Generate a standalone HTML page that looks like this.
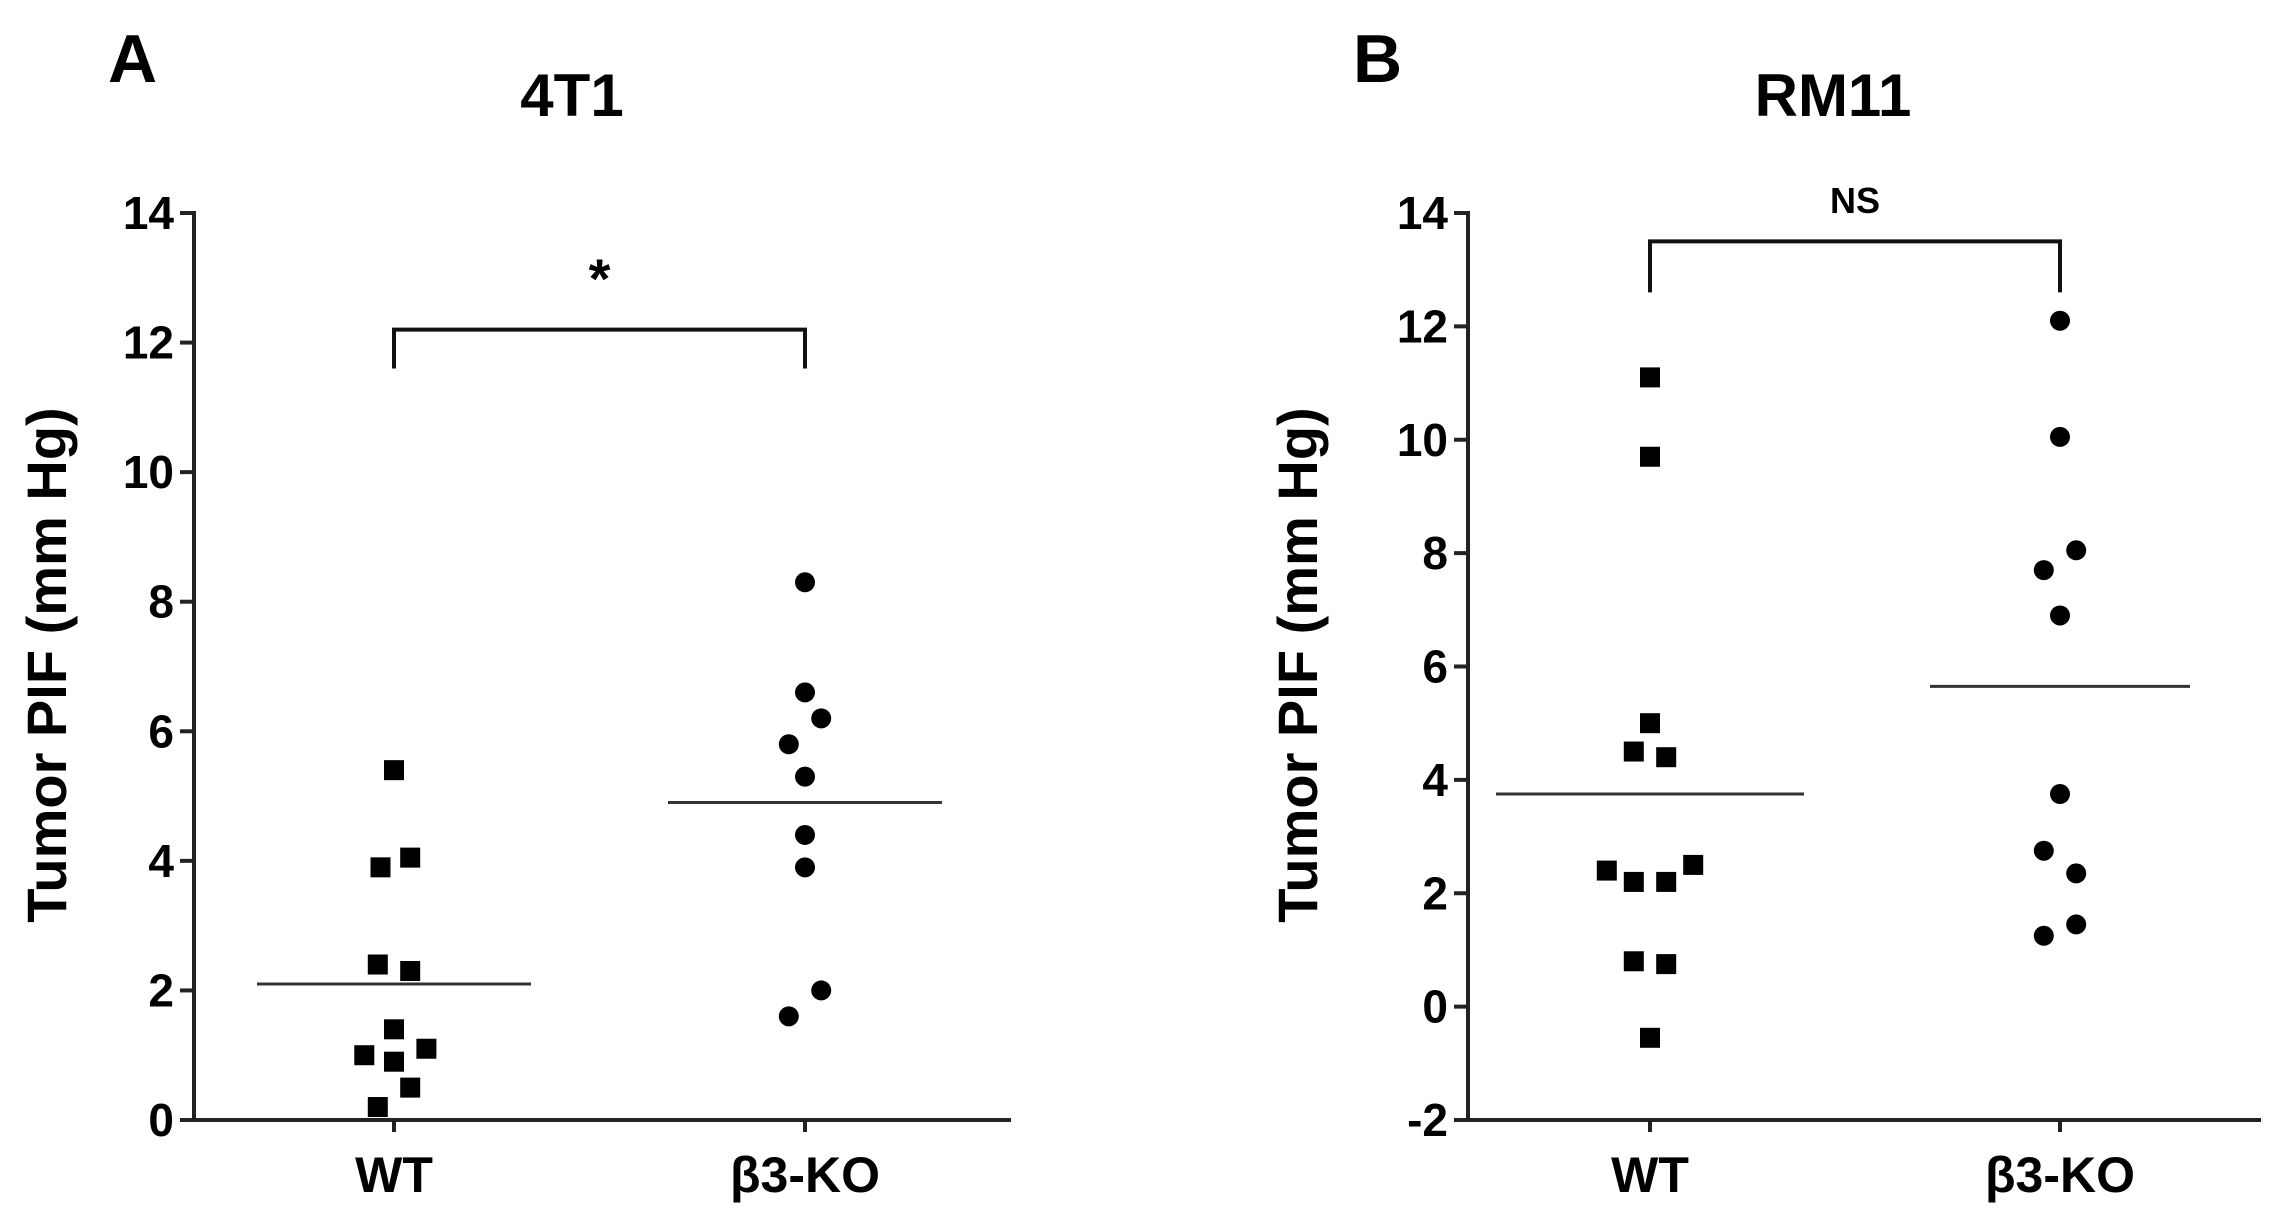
<!DOCTYPE html>
<html><head><meta charset="utf-8"><style>
html,body{margin:0;padding:0;background:#fff;}
svg{display:block;font-family:"Liberation Sans",Arial,sans-serif;}
</style></head><body>
<svg id="fig" width="2275" height="1228" viewBox="0 0 2275 1228"></svg>
<script>
// Panel A (4T1) data
const categoriesA = ["WT", "β3-KO"];
const wtValuesA = [5.4, 3.9, 4.05, 2.4, 2.3, 1.4, 1.0, 0.9, 1.1, 0.5, 0.2];
const wtJitterA = [0, -0.5, 0.6, -0.6, 0.6, 0, -1.1, 0, 1.2, 0.6, -0.6];
const koValuesA = [8.3, 6.6, 6.2, 5.8, 5.3, 4.4, 3.9, 2.0, 1.6];
const koJitterA = [0, 0, 0.6, -0.6, 0, 0, 0, 0.6, -0.6];
const meansA = [2.1, 4.9];
const ticksA = [0, 2, 4, 6, 8, 10, 12, 14];
const bracketA = [12.2, 11.6];
// Panel B (RM11) data
const categoriesB = ["WT", "β3-KO"];
const wtValuesB = [11.1, 9.7, 5.0, 4.5, 4.4, 2.4, 2.2, 2.2, 2.5, 0.8, 0.75, -0.55];
const wtJitterB = [0, 0, 0, -0.6, 0.6, -1.6, -0.6, 0.6, 1.6, -0.6, 0.6, 0];
const koValuesB = [12.1, 10.05, 8.05, 7.7, 6.9, 3.75, 2.75, 2.35, 1.45, 1.25];
const koJitterB = [0, 0, 0.6, -0.6, 0, 0, -0.6, 0.6, 0.6, -0.6];
const meansB = [3.75, 5.65];
const ticksB = [-2, 0, 2, 4, 6, 8, 10, 12, 14];
const bracketB = [13.5, 12.6];

const NS = "http://www.w3.org/2000/svg";
const svg = document.getElementById("fig");
function mk(tag, attrs, parent, txt) {
  const e = document.createElementNS(NS, tag);
  for (const k in attrs) e.setAttribute(k, attrs[k]);
  if (txt !== undefined) e.textContent = txt;
  (parent || svg).appendChild(e);
  return e;
}

function panel(cfg) {
  const g = mk("g", {});
  
  
  const yS = v => cfg.yBot - (v - cfg.yMin) / (cfg.yMax - cfg.yMin) * (cfg.yBot - cfg.yTop);
  const xS = i => cfg.xCats[i];
  const J = 27;
  const L = mk("text", {x: cfg.letterX, y: 82, "font-size": 68, "font-weight": "bold"}, g, cfg.letter);
  
  
  const T = mk("text", {x: cfg.titleX, y: 116, "font-size": 60, "font-weight": "bold", "text-anchor": "middle"}, g, cfg.title);
  
  
  const ax = mk("g", {stroke: "#222", "stroke-width": 4, fill: "none"}, g);
  
  
  mk("line", {x1: cfg.axX, y1: yS(cfg.yMax) - 2, x2: cfg.axX, y2: cfg.yBot}, ax);
  mk("line", {x1: cfg.axX - 14, y1: cfg.yBot, x2: cfg.xEnd, y2: cfg.yBot}, ax);
  cfg.ticks.forEach(t => {
    mk("line", {x1: cfg.axX - 14, y1: yS(t), x2: cfg.axX, y2: yS(t)}, ax);
    const tl = mk("text", {x: cfg.axX - 20, y: yS(t) + 16, "font-size": 46, "font-weight": "bold", "text-anchor": "end"}, g, String(t));
    
    
  });
  cfg.cats.forEach((c, i) => {
    mk("line", {x1: xS(i), y1: cfg.yBot, x2: xS(i), y2: cfg.yBot + 12}, ax);
    const cl = mk("text", {x: xS(i), y: 1192, "font-size": 50, "font-weight": "bold", "text-anchor": "middle"}, g, c);
    
    
  });
  const yt = mk("text", {x: 0, y: 0, "font-size": 56, "font-weight": "bold", "text-anchor": "middle", transform: `translate(${cfg.ytX},665) rotate(-90)`}, g, "Tumor PIF (mm Hg)");
  
  
  cfg.wt.forEach((v, k) => {
    const s = mk("rect", {x: xS(0) + cfg.wtJ[k] * J - 10, y: yS(v) - 10, width: 20, height: 20, fill: "#000"}, g);
    
    
  });
  cfg.ko.forEach((v, k) => {
    const c = mk("circle", {cx: xS(1) + cfg.koJ[k] * J, cy: yS(v), r: 10, fill: "#000"}, g);
    
    
  });
  cfg.means.forEach((m, i) => {
    const ml = mk("line", {x1: xS(i) - cfg.meanHalf[i], y1: yS(m), x2: xS(i) + cfg.meanHalf[i], y2: yS(m), stroke: "#333", "stroke-width": 3}, g);
    
    
  });
  const b = mk("path", {d: `M${xS(0)},${yS(cfg.br[1])} V${yS(cfg.br[0])} H${xS(1)} V${yS(cfg.br[1])}`, stroke: "#111", "stroke-width": 4, fill: "none"}, g);
  
  
  const st = mk("text", {x: (xS(0) + xS(1)) / 2, y: cfg.sigY, "font-size": cfg.sigSize, "font-weight": cfg.sigW, "text-anchor": "middle"}, g, cfg.sig);
  
  
}

panel({name: "panel-a-4t1", letter: "A", letterX: 108, title: "4T1", titleX: 572,
  axX: 194, xEnd: 1011, yTop: 213, yBot: 1120, yMin: 0, yMax: 14, ticks: ticksA,
  cats: categoriesA, xCats: [394, 805], ytX: 66, wt: wtValuesA, wtJ: wtJitterA, ko: koValuesA, koJ: koJitterA,
  means: meansA, meanHalf: [137, 137], br: bracketA, sig: "*", sigY: 298, sigSize: 56, sigW: "bold"});
panel({name: "panel-b-rm11", letter: "B", letterX: 1353, title: "RM11", titleX: 1833,
  axX: 1468, xEnd: 2261, yTop: 213, yBot: 1120, yMin: -2, yMax: 14, ticks: ticksB,
  cats: categoriesB, xCats: [1650, 2060], ytX: 1317, wt: wtValuesB, wtJ: wtJitterB, ko: koValuesB, koJ: koJitterB,
  means: meansB, meanHalf: [154, 130], br: bracketB, sig: "NS", sigY: 213, sigSize: 36, sigW: "bold"});
</script>
</body></html>
